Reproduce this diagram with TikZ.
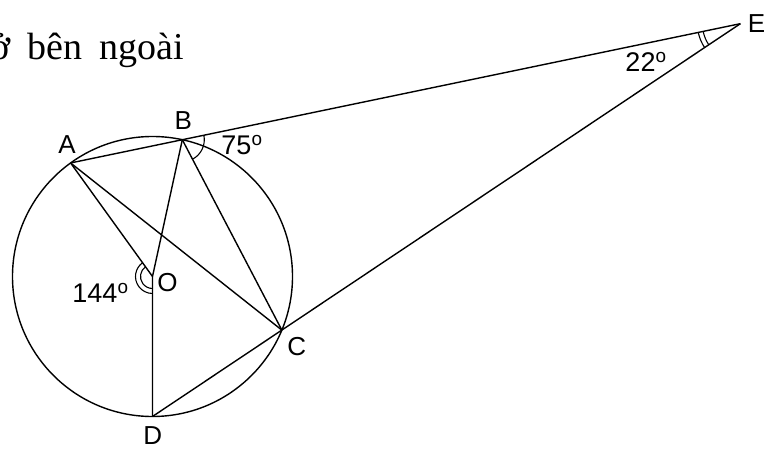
\documentclass[tikz,border=0pt]{standalone}
\usepackage{fontspec}
\setmainfont{Liberation Serif}
\newfontfamily\labelfont{Liberation Sans}

\begin{document}
\begin{tikzpicture}[
    x=1pt, y=1pt,
    edge/.style={line width=1.4pt, draw=black, line join=round},
    anglemark/.style={line width=1.1pt, draw=black},
    ptlabel/.style={font=\labelfont\fontsize{26}{29}\selectfont, inner sep=0pt},
    deglabel/.style={font=\labelfont\fontsize{27}{30}\selectfont, inner sep=0pt}
]
\useasboundingbox (0,0) rectangle (773,448);
\coordinate (O) at (152.5,171.5);
\coordinate (A) at ([shift={(O)}]125.8:140);
\coordinate (B) at ([shift={(O)}]77.7:140);
\coordinate (C) at ([shift={(O)}]-22.5:140);
\coordinate (D) at ([shift={(O)}]-90:140);
\coordinate (E) at (intersection of A--B and D--C);
\draw[edge] (O) circle (140);
\draw[edge] (A) -- (E);
\draw[edge] (D) -- (E);
\draw[edge] (A) -- (C);
\draw[edge] (A) -- (O);
\draw[edge] (B) -- (O) -- (D);
\draw[edge] (B) -- (C);
% angle marks
\draw[anglemark] ([shift={(125.8:12)}]O) arc (125.8:270:12);
\draw[anglemark] ([shift={(125.8:17)}]O) arc (125.8:270:17);
\draw[anglemark] ([shift={(11.7:22)}]B) arc (11.7:-62.4:22);
\draw[anglemark] ([shift={(191.7:38)}]E) arc (191.7:213.8:38);
\draw[anglemark] ([shift={(191.7:43)}]E) arc (191.7:213.8:43);
% labels
\node[ptlabel] (lA) at (67,303) {A};
\node[ptlabel] (lB) at (183.3,327.3) {B};
\node[ptlabel] (lC) at (296.7,101.3) {C};
\node[ptlabel] (lD) at (152.7,12.5) {D};
\node[ptlabel] (lE) at (756.5,424.5) {E};
\node[ptlabel] (lO) at (167.5,165) {O};
\node[deglabel] (angO) at (100.5,155) {144\textsuperscript{o}};
\node[deglabel] (angB) at (242,303) {75\textsuperscript{o}};
\node[deglabel] (angE) at (646,386) {22\textsuperscript{o}};
\node[anchor=base east, inner sep=0pt, font={\fontsize{38}{42}\selectfont\spaceskip=17pt}] (intro) at (184,388) {ở bên ngoài};
\end{tikzpicture}
\end{document}
